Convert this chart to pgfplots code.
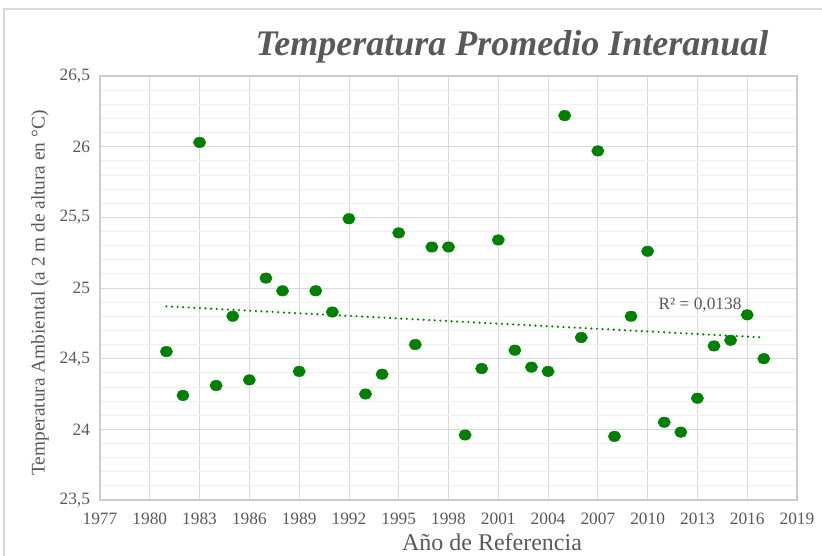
\documentclass[border=0pt]{standalone}
\usepackage{pgfplots}
\usepackage{pgfplotstable}
\pgfplotsset{compat=1.18}
\usepackage{fontspec}
\setmainfont{Liberation Serif}
\definecolor{txt}{HTML}{595959}
\definecolor{grn}{HTML}{008000}
\pgfplotstableread{
x y
1981 24.55
1982 24.24
1983 26.03
1984 24.31
1985 24.80
1986 24.35
1987 25.07
1988 24.98
1989 24.41
1990 24.98
1991 24.83
1992 25.49
1993 24.25
1994 24.39
1995 25.39
1996 24.60
1997 25.29
1998 25.29
1999 23.96
2000 24.43
2001 25.34
2002 24.56
2003 24.44
2004 24.41
2005 26.22
2006 24.65
2007 25.97
2008 23.95
2009 24.80
2010 25.26
2011 24.05
2012 23.98
2013 24.22
2014 24.59
2015 24.63
2016 24.81
2017 24.50
}\datatable
\pgfplotstableread{
x y
1981 24.87
2017 24.65
}\trendtable
\begin{document}
\begin{tikzpicture}[x=0.75pt,y=0.75pt]
\path[use as bounding box] (0,0) rectangle (822,556);
\draw[gray!30, line width=1.2pt] (4,0) -- (4,547) -- (822,547);
\begin{axis}[
  at={(75pt,42pt)}, anchor=south west,
  width=522.75pt, height=318pt, scale only axis,
  xmin=1977, xmax=2019, xtick={1977,1980,1983,1986,1989,1992,1995,1998,2001,2004,2007,2010,2013,2016,2019},
  ymin=23.5, ymax=26.5, ytick={23.5,24,24.5,25,25.5,26,26.5},
  minor y tick num=4,
  grid=both,
  major grid style={draw=black!15, line width=0.6pt},
  minor grid style={draw=black!6, line width=0.6pt},
  axis line style={draw=black!20, line width=0.8pt},
  major tick style={draw=none}, minor tick style={draw=none},
  tick label style={font=\fontsize{13}{15}\selectfont, text=txt},
  /pgf/number format/assume math mode=true,
  x tick label style={/pgf/number format/1000 sep={}, yshift=-6pt},
  y tick label style={/pgf/number format/use comma, xshift=-4pt},
  clip=false,
]
\addplot[grn, line width=1.8pt, line cap=round, dash pattern=on 0pt off 4.2pt] table[x=x, y=y] {\trendtable};
\addplot[only marks, mark=*, mark size=4.6pt, mark options={fill=grn, draw=grn, yscale=0.85}] table[x=x,y=y] {\datatable};
\end{axis}
\node[text=txt, font=\fontsize{27}{30}\selectfont\bfseries\itshape] at (512,509) {Temperatura Promedio Interanual};
\node[text=txt, rotate=90, font=\fontsize{14.5}{16}\selectfont] at (40,263) {Temperatura Ambiental (a 2 m de altura en °C)};
\node[text=txt, font=\fontsize{18}{20}\selectfont] at (492,14) {Año de Referencia};
\node[text=txt, font=\fontsize{13}{15}\selectfont] at (700,251) {R² = 0,0138};
\end{tikzpicture}
\end{document}
